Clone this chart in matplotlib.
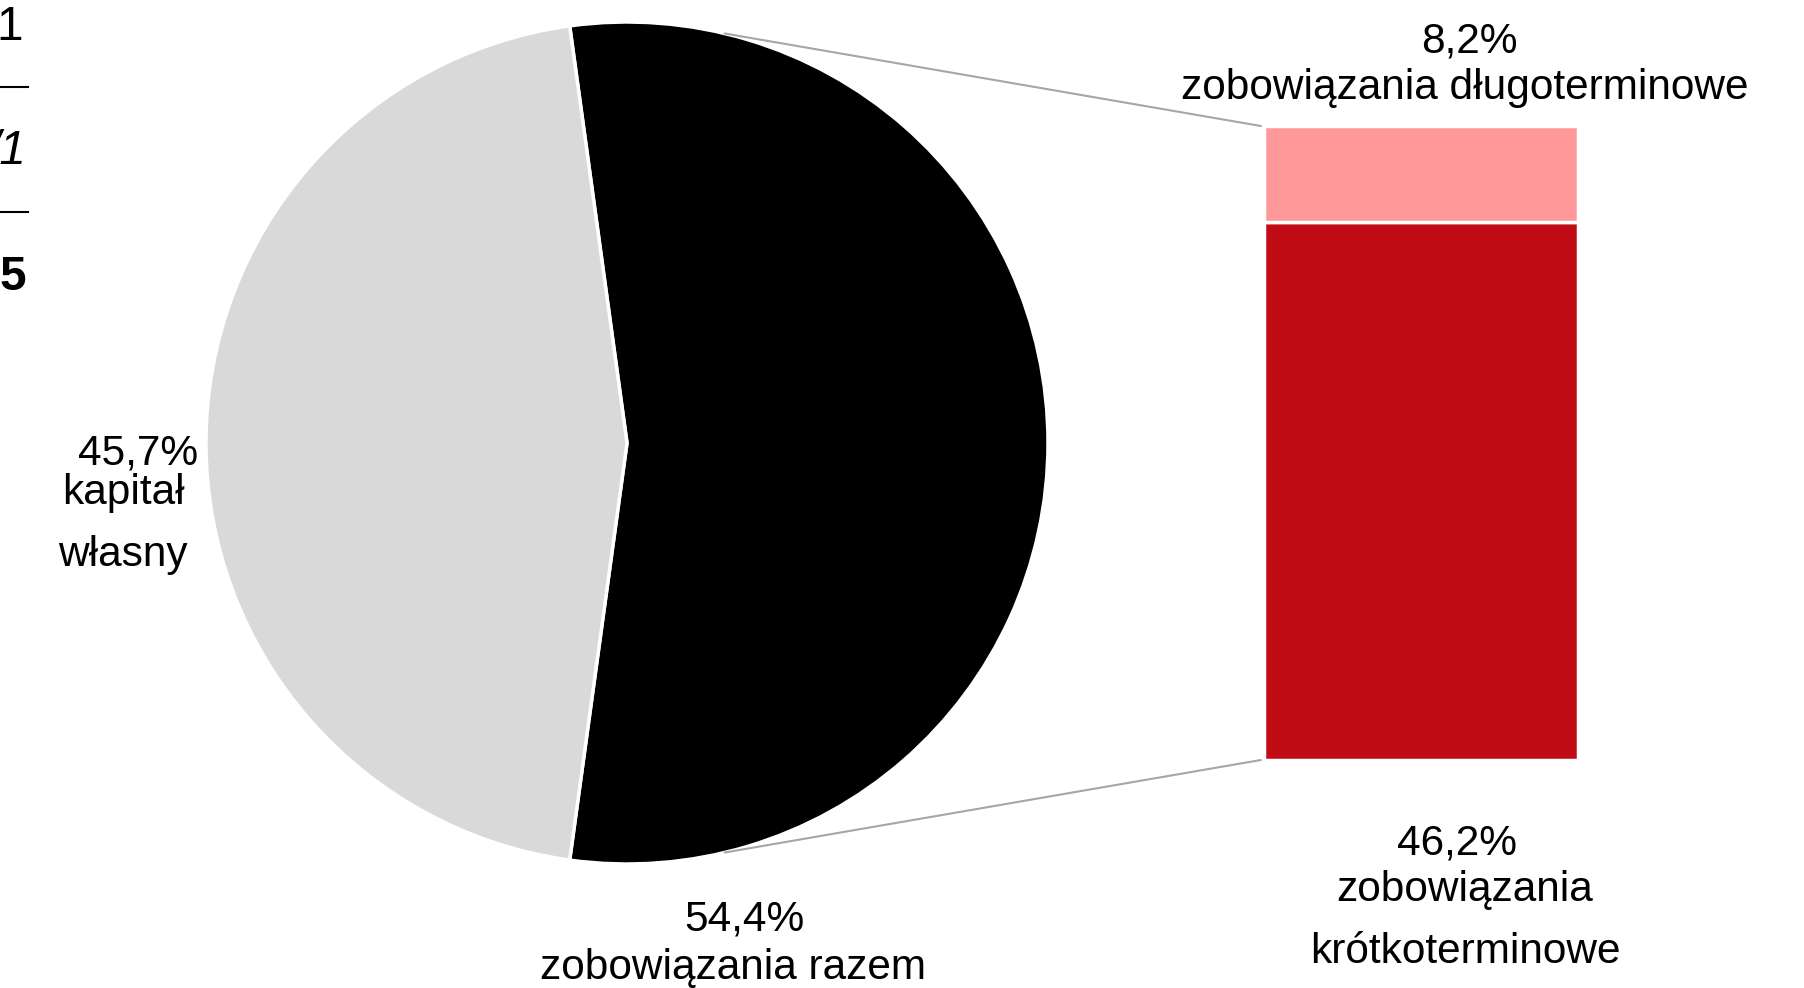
import matplotlib
matplotlib.use("Agg")
import matplotlib.pyplot as plt
from matplotlib.patches import ConnectionPatch
import numpy as np

plt.rcParams['font.family'] = ['Liberation Sans', 'DejaVu Sans']

# Data
pie_labels = ["kapitał własny", "zobowiązania razem"]
pie_values = [45.7, 54.4]
pie_colors = ["#d9d9d9", "#000000"]
bar_labels = ["zobowiązania krótkoterminowe", "zobowiązania długoterminowe"]
bar_values = [46.2, 8.2]
bar_colors = ["#c00d15", "#ff9999"]

W, H = 1804, 988
fig = plt.figure(figsize=(W / 100, H / 100), dpi=100)

def fx(x):
    return x / W

def fy(y):
    return 1 - y / H

# Pie axes: center (627, 443), radius 421 px
cx, cy, r = 627, 443, 421
axp = fig.add_axes([fx(cx - r), fy(cy + r), 2 * r / W, 2 * r / H])
black_share = pie_values[1] / sum(pie_values)
start = -black_share * 180
axp.pie(pie_values[::-1], colors=pie_colors[::-1], startangle=start,
        counterclock=True, radius=1,
        wedgeprops=dict(edgecolor="white", linewidth=2.5))
axp.set_xlim(-1, 1)
axp.set_ylim(-1, 1)
axp.set_aspect("equal")
axp.axis("off")

# Bar axes: x 1264-1578, y 126-760
bx0, bx1, by0, by1 = 1264, 1578, 126, 760
axb = fig.add_axes([fx(bx0), fy(by1), (bx1 - bx0) / W, (by1 - by0) / H])
bottom = 0
for v, c in zip(bar_values, bar_colors):
    axb.bar([0], [v], bottom=bottom, width=1, color=c, edgecolor="white", linewidth=2.5)
    bottom += v
axb.set_xlim(-0.5, 0.5)
axb.set_ylim(0, sum(bar_values))
axb.axis("off")

# Connection lines
theta = np.deg2rad(76.6)
for sgn, yb in [(1, sum(bar_values)), (-1, 0)]:
    con = ConnectionPatch(xyA=(np.cos(theta), sgn * np.sin(theta)), coordsA=axp.transData,
                          xyB=(-0.51, yb), coordsB=axb.transData,
                          color="#a6a6a6", linewidth=1.5)
    fig.add_artist(con)

fs = 30.5
def t(x, y, s, **kw):
    fig.text(fx(x), fy(y), s, ha="center", va="center", fontsize=fs, **kw)

t(138, 453, "45,7%")
t(123, 493, "kapitał")
t(123, 555, "własny")
t(744, 919, "54,4%")
t(733, 968, "zobowiązania razem")
t(1469, 41, "8,2%")
t(1465, 88, "zobowiązania długoterminowe")
t(1457, 844, "46,2%")
t(1465, 890, "zobowiązania")
t(1465, 952, "krótkoterminowe")

# Cut-off fragments at left edge
fig.text(fx(23), fy(28), "1", ha="right", va="center", fontsize=fs + 4)
fig.text(fx(27), fy(152), "/1", ha="right", va="center", fontsize=fs + 4, style="italic")
fig.text(fx(26), fy(278), "5", ha="right", va="center", fontsize=fs + 4, weight="bold")
for yy in [87, 212]:
    fig.add_artist(plt.Line2D([0, fx(28)], [fy(yy), fy(yy)], color="black", linewidth=1.5))

fig.savefig("out.png", dpi=100)
